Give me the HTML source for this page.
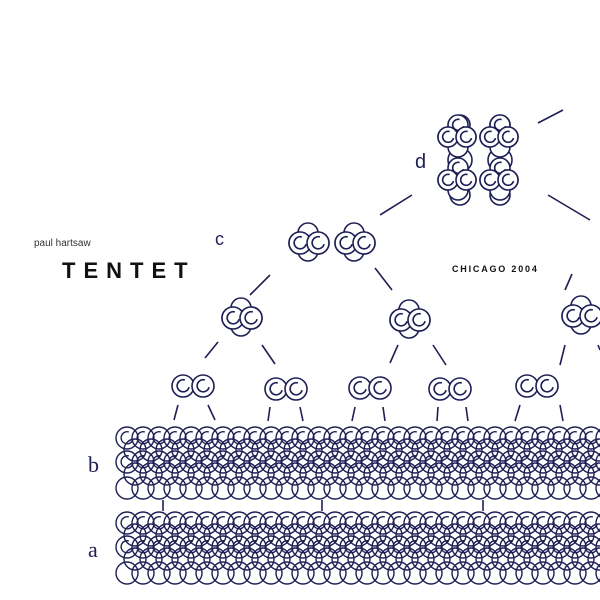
<!DOCTYPE html>
<html><head><meta charset="utf-8"><style>
html,body{margin:0;padding:0;background:#fff;width:600px;height:600px;overflow:hidden}
svg{display:block}
</style></head><body>
<svg id="s" width="600" height="600" viewBox="0 0 600 600" xmlns="http://www.w3.org/2000/svg">
<rect width="600" height="600" fill="#fff"/>
<g stroke="#1e1f55" stroke-width="1.6" fill="none">
<line x1="380" y1="215" x2="412" y2="195"/>
<line x1="538" y1="123" x2="563" y2="110"/>
<line x1="548" y1="195" x2="590" y2="220"/>
<line x1="270" y1="275" x2="250" y2="295"/>
<line x1="375" y1="268" x2="392" y2="290"/>
<line x1="572" y1="274" x2="565" y2="290"/>
<line x1="218" y1="342" x2="205" y2="358"/>
<line x1="262" y1="345" x2="275" y2="364"/>
<line x1="398" y1="345" x2="390" y2="363"/>
<line x1="433" y1="345" x2="446" y2="365"/>
<line x1="565" y1="345" x2="560" y2="365"/>
<line x1="598" y1="345" x2="600" y2="350"/>
<line x1="178" y1="405" x2="174" y2="420"/>
<line x1="208" y1="405" x2="215" y2="420"/>
<line x1="270" y1="407" x2="268" y2="421"/>
<line x1="300" y1="407" x2="303" y2="421"/>
<line x1="355" y1="407" x2="352" y2="421"/>
<line x1="383" y1="407" x2="385" y2="421"/>
<line x1="438" y1="407" x2="437" y2="421"/>
<line x1="466" y1="407" x2="468" y2="421"/>
<line x1="520" y1="405" x2="515" y2="421"/>
<line x1="560" y1="405" x2="563" y2="421"/>
<line x1="163" y1="500" x2="163" y2="511"/>
<line x1="322" y1="500" x2="322" y2="511"/>
<line x1="483" y1="500" x2="483" y2="511"/>
</g>
<g id="g" stroke="#1e1f55" stroke-width="1.6" fill="#fff"></g>
<g id="b" stroke="#1e1f55" stroke-width="1.4" fill="none"></g>
<text x="34" y="246" font-family="Liberation Sans, sans-serif" font-size="10" fill="#333">paul hartsaw</text>
<text x="62" y="278" font-family="Liberation Sans, sans-serif" font-size="22" font-weight="bold" letter-spacing="8" fill="#111">TENTET</text>
<text x="452" y="272" font-family="Liberation Sans, sans-serif" font-size="9" font-weight="bold" letter-spacing="1.8" fill="#111">CHICAGO 2004</text>
<text x="415" y="168" font-family="Liberation Sans, sans-serif" font-size="20" fill="#1e1f55">d</text>
<text x="215" y="245" font-family="Liberation Sans, sans-serif" font-size="18" fill="#1e1f55">c</text>
<text x="88" y="472" font-family="Liberation Serif, serif" font-size="22" fill="#1e1f55">b</text>
<text x="88" y="557" font-family="Liberation Serif, serif" font-size="22" fill="#1e1f55">a</text>
</svg>
<script>
var h='';
function C(x,y,r,arc){r=r||10;h+='<circle cx="'+x+'" cy="'+y+'" r="'+r+'"/>';
if(arc!==false){var a=r*0.55;h+='<path fill="none" d="M'+(x+a*0.3)+' '+(y-a)+' A'+a+' '+a+' 0 1 0 '+(x+a)+' '+(y+a*0.2)+'"/>';}}
function pair(x,y){C(x,y,11);C(x+20,y,11);}
function tri(x,y){C(x+8,y-10,10,false);C(x,y,11);C(x+18,y,11);C(x+8,y+8,10,false);C(x,y,11);C(x+18,y,11);}
function quad(x,y){C(x+10,y-12,10);C(x,y,10);C(x+18,y,10);C(x+10,y+10,10,false);C(x,y,10);C(x+18,y,10);}
pair(183,386);pair(276,389);pair(360,388);pair(440,389);pair(527,386);
tri(233,318);tri(401,320);tri(573,316);
tri(300,243);tri(346,243);
C(460,125,10);C(500,125,10);C(460,195,10,false);C(500,195,10,false);
C(460,160,12,false);C(500,160,12,false);
quad(448,137);quad(490,137);quad(448,180);quad(490,180);
document.getElementById('g').innerHTML=h;
h='';
function band(y0){var rows=[0,12,24,36,50];for(var k=0;k<rows.length;k++){for(var x=127+(k%2)*8;x<610;x+=16){C(x,y0+rows[k],11,k==0||k==2);}}}
band(438);band(523);
document.getElementById('b').innerHTML=h;
</script>
</body></html>
